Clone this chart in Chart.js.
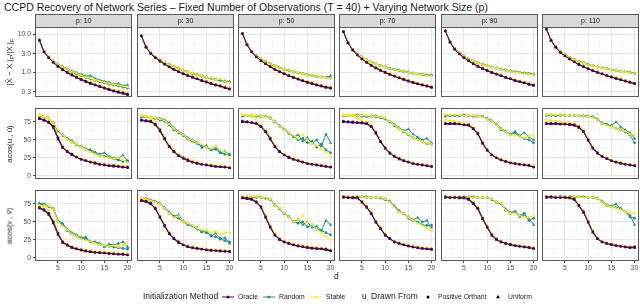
<!DOCTYPE html>
<html lang="en">
<head>
<meta charset="UTF-8">
<title>CCPD Recovery of Network Series</title>
<script src="https://cdn.jsdelivr.net/npm/chart.js"></script>
<style>
  body { margin: 0; width: 640px; height: 304px; position: relative; background: #fff;
         font-family: "Liberation Sans", Arial, sans-serif; overflow: hidden; }
  .abs { position: absolute; white-space: nowrap; }
  #title { left: 4px; top: 1px; font-size: 10.5px; color: #1a1a1a; }
  .strip { background: #d9d9d9; border: 1px solid #595959; box-sizing: border-box;
           font-size: 7px; color: #1a1a1a; text-align: center; line-height: 11px; }
  .ylab { font-size: 8px; color: #1a1a1a; transform: translate(-50%, -50%) rotate(-90deg); }
  .ylab sub { font-size: 6px; }
  .leg { font-size: 6.8px; color: #1a1a1a; top: 293px; }
  .legt { font-size: 8.5px; color: #1a1a1a; top: 291px; }
  .legt sub { font-size: 6px; }
</style>
</head>
<body>
<div id="title" class="abs">CCPD Recovery of Network Series – Fixed Number of Observations (T = 40) + Varying Network Size (p)</div>
<div id="root"></div>

<script>
// ---- data ----
const dValues = [1,2,3,4,5,6,7,8,9,10,11,12,13,14,15,16,17,18,19,20];
const panelLabels = ['p: 10', 'p: 30', 'p: 50', 'p: 70', 'p: 90', 'p: 110'];
const methods = ['Oracle', 'Random', 'Stable'];
const methodColors = ['#440154', '#21908C', '#FDE725'];

const xTicks = [5, 10, 15, 20];
const xMinor = [2.5, 7.5, 12.5, 17.5];
const errTicks = [0.3, 1, 3, 10];
const errMinor = [0.548, 1.732, 5.477];
const angTicks = [0, 25, 50, 75];
const angMinor = [12.5, 37.5, 62.5, 87.5];

// row 1: |X^ - X|_F / |X|_F  (one inner array per panel p = 10..110)
const errOracleP = [
  [6.9,3.4,2.4,1.8,1.42,1.17,0.98,0.84,0.73,0.64,0.57,0.51,0.46,0.42,0.38,0.35,0.32,0.3,0.28,0.26],
  [8.9,4.5,3.1,2.4,1.95,1.62,1.37,1.18,1.03,0.91,0.81,0.73,0.66,0.6,0.55,0.5,0.46,0.43,0.39,0.36],
  [10.3,5.2,3.4,2.5,2.0,1.65,1.38,1.18,1.03,0.9,0.8,0.72,0.65,0.59,0.54,0.5,0.46,0.43,0.4,0.38],
  [11.5,5.8,3.8,2.8,2.2,1.8,1.5,1.28,1.11,0.98,0.87,0.78,0.7,0.64,0.58,0.53,0.49,0.46,0.43,0.4],
  [12,6.1,4.0,3.0,2.4,1.98,1.66,1.42,1.24,1.1,0.98,0.88,0.8,0.72,0.66,0.6,0.56,0.52,0.48,0.45],
  [13.5,6.8,4.5,3.3,2.65,2.2,1.85,1.58,1.38,1.22,1.09,0.98,0.89,0.81,0.74,0.68,0.63,0.58,0.54,0.5]
];
const errOracleU = [
  [6.8,3.35,2.35,1.78,1.4,1.15,0.96,0.82,0.71,0.62,0.55,0.49,0.45,0.41,0.37,0.34,0.31,0.29,0.27,0.25],
  [8.8,4.45,3.05,2.35,1.92,1.6,1.35,1.16,1.01,0.89,0.8,0.72,0.65,0.59,0.54,0.49,0.45,0.42,0.38,0.35],
  [10.2,5.15,3.35,2.48,1.98,1.63,1.36,1.16,1.01,0.89,0.79,0.71,0.64,0.58,0.53,0.49,0.45,0.42,0.39,0.37],
  [11.4,5.75,3.75,2.78,2.18,1.78,1.48,1.26,1.1,0.97,0.86,0.77,0.69,0.63,0.57,0.52,0.48,0.45,0.42,0.39],
  [11.9,6.05,3.95,2.97,2.38,1.96,1.64,1.4,1.22,1.08,0.96,0.87,0.79,0.71,0.65,0.59,0.55,0.51,0.47,0.44],
  [13.4,6.75,4.45,3.28,2.62,2.18,1.83,1.56,1.36,1.2,1.07,0.97,0.88,0.8,0.73,0.67,0.62,0.57,0.53,0.49]
];
const errRandomP = [
  [6.9,3.5,2.5,1.92,1.58,1.35,1.15,1.0,0.88,0.8,0.72,0.66,0.6,0.56,0.52,0.48,0.45,0.43,0.4,0.38],
  [8.9,4.6,3.2,2.5,2.08,1.78,1.55,1.37,1.22,1.1,1.0,0.9,0.84,0.77,0.72,0.68,0.63,0.6,0.56,0.54],
  [10.3,5.3,3.55,2.7,2.2,1.87,1.63,1.45,1.3,1.18,1.08,1.0,0.94,0.89,0.84,0.8,0.76,0.73,0.71,0.69],
  [11.5,5.9,3.95,3.0,2.45,2.08,1.82,1.62,1.46,1.34,1.24,1.15,1.08,1.02,0.97,0.92,0.88,0.85,0.82,0.8],
  [12,6.2,4.2,3.2,2.6,2.22,1.95,1.74,1.58,1.45,1.34,1.25,1.17,1.1,1.05,1.0,0.96,0.93,0.9,0.88],
  [13.5,6.9,4.7,3.5,2.85,2.42,2.12,1.88,1.7,1.56,1.45,1.35,1.27,1.2,1.14,1.09,1.04,1.0,0.96,0.92]
];
const errRandomU = [
  [6.9,3.5,2.5,1.95,1.62,1.4,1.22,1.07,0.96,0.86,0.78,0.8,0.68,0.62,0.57,0.54,0.48,0.5,0.44,0.46],
  [8.9,4.6,3.2,2.5,2.1,1.8,1.58,1.4,1.26,1.12,1.02,0.94,0.86,0.82,0.74,0.7,0.64,0.62,0.58,0.56],
  [10.3,5.3,3.55,2.72,2.22,1.9,1.66,1.47,1.33,1.2,1.12,1.02,0.97,0.92,0.86,0.82,0.78,0.75,0.72,0.8],
  [11.5,5.9,3.95,3.02,2.47,2.1,1.85,1.64,1.5,1.36,1.27,1.18,1.12,1.04,1.0,0.94,0.9,0.88,0.84,0.83],
  [12,6.2,4.2,3.22,2.62,2.25,1.98,1.77,1.6,1.48,1.37,1.28,1.2,1.14,1.07,1.03,0.98,0.95,0.92,0.84],
  [13.5,6.9,4.7,3.52,2.88,2.45,2.15,1.92,1.74,1.6,1.48,1.38,1.3,1.24,1.16,1.12,1.06,1.02,0.98,0.88]
];
const errStableP = [
  [6.9,3.5,2.5,1.9,1.5,1.23,1.03,0.88,0.77,0.67,0.6,0.54,0.49,0.44,0.4,0.37,0.34,0.32,0.3,0.28],
  [8.9,4.6,3.25,2.52,2.05,1.7,1.44,1.24,1.08,0.95,0.85,0.77,0.7,0.63,0.58,0.53,0.49,0.45,0.41,0.38],
  [10.3,5.3,3.55,2.62,2.1,1.73,1.45,1.24,1.08,0.95,0.84,0.76,0.68,0.62,0.57,0.53,0.49,0.45,0.42,0.4],
  [11.5,5.9,3.95,2.94,2.3,1.88,1.57,1.34,1.16,1.02,0.91,0.82,0.74,0.67,0.61,0.56,0.52,0.48,0.45,0.42],
  [12,6.2,4.15,3.12,2.5,2.06,1.73,1.48,1.29,1.14,1.02,0.92,0.83,0.75,0.69,0.63,0.59,0.55,0.5,0.47],
  [13.5,6.9,4.65,3.45,2.76,2.28,1.92,1.64,1.43,1.27,1.13,1.02,0.93,0.84,0.77,0.71,0.66,0.6,0.56,0.52]
];
const errStableU = [
  [6.9,3.5,2.5,1.93,1.6,1.37,1.18,1.03,0.92,0.82,0.74,0.68,0.62,0.58,0.53,0.5,0.47,0.45,0.42,0.4],
  [8.9,4.6,3.2,2.5,2.1,1.79,1.56,1.38,1.24,1.1,1.01,0.92,0.85,0.8,0.73,0.71,0.62,0.66,0.56,0.52],
  [10.3,5.3,3.55,2.7,2.2,1.88,1.64,1.46,1.31,1.19,1.1,1.01,0.96,0.9,0.85,0.81,0.77,0.74,0.7,0.68],
  [11.5,5.9,3.95,3.0,2.45,2.08,1.83,1.63,1.47,1.35,1.25,1.16,1.09,1.03,0.98,0.93,0.89,0.86,0.8,0.78],
  [12,6.2,4.2,3.2,2.6,2.23,1.96,1.75,1.59,1.46,1.35,1.26,1.18,1.11,1.04,0.99,0.95,0.91,0.88,0.86],
  [13.5,6.9,4.7,3.5,2.86,2.43,2.13,1.9,1.71,1.57,1.46,1.36,1.28,1.21,1.15,1.1,1.05,1.0,0.95,0.9]
];

// row 2: acos(u, u^) in degrees
const uOracleP = [
  [80,78,75,69,53,40,34,30,26,23,21,19,18,16,15,14,14,13,12,12],
  [78,77,76,72,64,52,41,34,28,25,22,19,17.5,16,15,14,13,12.5,12,11],
  [76,75,74,73,69,62,52,41,34,29,26,23,21,19,17,16,15,14,13,12],
  [76,75,75,74,74,73,69,60,48,39,32,27,24,21,19,17,16,15,14,13],
  [73,73,73,72,71,71,66,59,46,36,29,25,22,20,18,17,16,15,14.5,12],
  [73,73,73,72,72,72,71,68,62,50,39,32,27,24,21,19,17.5,16,15,14]
];
const uOracleU = [
  [79,77,74,67,51,39,33,29,26,23,21,19,17,16,15,14,13,13,12,11],
  [77,76,75,71,62,51,40,33,28,24,21,19,17,16,15,14,13,12,12,11],
  [75,75,74,72,68,61,51,40,33,29,25,23,21,19,17,16,15,14,13,12],
  [75,75,74,74,73,72,68,59,47,38,31,27,23,21,19,17,16,15,14,13],
  [72,72,72,72,71,70,65,58,45,35,29,25,22,20,18,17,16,15,14,13],
  [72,72,72,72,72,71,70,67,61,49,38,31,27,24,21,19,17,16,15,14]
];
const uRandomP = [
  [83,82,80,74,63,56,52,47,43,40,37,35,31,28,27,25,24,22,20,21],
  [82,82,81,80,78,76,71,64,60,56,51,48,45,42,40,36,37,32,30,29],
  [84,84,84,83,83,82,80,76,69,64,59,55,50,52,46,48,40,44,36,32],
  [84,84,84,84,83,83,83,82,81,79,75,70,66,61,57,53,51,48,45,44],
  [84,84,84,84,84,84,83,83,83,79,76,71,64,61,57,60,55,52,50,46],
  [84,84,84,84,84,84,84,84,83,83,82,78,73,71,68,66,64,61,57,46]
];
const uRandomU = [
  [84,83,81,73,62,58,52,49,44,41,38,36,33,30,32,27,25,24,29,20],
  [83,83,82,81,80,78,74,67,62,58,53,50,47,39,42,36,41,32,34,30],
  [83,84,84,84,83,83,81,75,70,65,60,54,57,48,53,45,50,41,58,46],
  [83,84,84,85,84,83,83,84,82,80,76,72,67,63,65,58,54,50,52,46],
  [83,84,84,84,85,84,84,83,82,80,77,72,66,62,58,62,56,60,54,50],
  [85,85,84,85,84,84,84,84,84,83,82,79,74,72,70,75,68,64,60,52]
];
const uStableP = [
  [84,82,80,71,55,42,35,31,27,24,22,20,19,17,16,15,15,14,14,13],
  [84,83,80,74,65,54,43,36,30,26,23,21,19,17,16,15,14,14,13,12],
  [85,84,82,78,71,64,54,43,35,30,27,24,22,20,18,17,16,15,14,13],
  [84,84,83,80,77,75,71,62,50,40,33,28,25,22,20,18,17,16,15,14],
  [78,77,76,74,73,72,68,61,48,37,30,26,23,21,19,18,17,16,15,14],
  [78,77,76,75,74,73,73,70,64,52,40,33,28,25,22,20,19,17,16,15]
];
const uStableU = [
  [85,83,81,74,64,57,51,47,44,40,37,33,30,28,26,25,24,25,22,18],
  [84,83,82,81,79,77,72,66,61,57,52,49,46,44,40,38,41,36,33,25],
  [85,85,84,84,83,82,80,76,69,64,60,56,52,58,50,45,42,38,33,27],
  [85,85,85,84,84,84,83,83,82,80,76,71,66,62,58,53,50,48,46,44],
  [85,85,85,85,84,84,84,83,82,79,76,71,65,61,57,56,55,53,55,57],
  [85,85,85,85,84,84,84,84,83,83,81,78,73,70,68,66,63,62,58,57]
];

// row 3: acos(v, v^) in degrees
const vOracleP = [
  [70,67,62,50,34,22,18,14.5,12.5,11,9.5,8.5,7.5,7,6.5,6,5.5,5,5,4],
  [80,79,76,69,57,45,34,27,22,18,15.5,14,13,12,11,10.5,10,9.5,9,9],
  [84,83,82,78,71,57,43,32,26,22,20,18,16.5,15.5,14.5,13.5,13,12.5,12,10],
  [85,84,84,84,78,71,62,50,41,32,27,22,20,18,16.5,15,14,13,12.5,12],
  [85,84,84,84,84,82,76,69,55,43,32,26,22,20,18.5,17,16,15,14.5,13],
  [85,85,84,84,84,84,82,73,64,50,36,27,22,20,18.5,17,16,15,14.5,15]
];
const vOracleU = [
  [69,66,60,48,32,21,17,14,12,10.5,9,8,7.5,7,6.5,6,5.5,5,4.5,4],
  [79,78,75,68,56,44,33,26,21,18,15,14,13,12,11,10,10,9,9,8.5],
  [83,82,81,77,70,56,42,31,25,22,20,18,16,15,14,13,12.5,12,11,9.5],
  [84,84,83,83,77,70,61,49,40,31,26,22,20,18,16,15,14,13,12,11.5],
  [84,84,84,83,83,81,75,68,54,42,31,25,22,20,18,17,16,15,14,13],
  [84,84,84,84,84,83,81,72,63,49,35,26,22,20,18,17,16,15,14,14]
];
const vRandomP = [
  [75,74,71,68,50,46,38,33,30,27,26,23,21,19,17,16,15,14,13,12],
  [82,82,80,78,75,69,62,57,55,50,46,44,40,37,35,31,29,26,24,22],
  [84,84,84,84,84,83,81,73,69,62,57,51,48,50,43,46,40,38,35,32],
  [85,85,85,85,85,84,84,84,84,82,78,71,64,62,55,52,50,46,45,45],
  [85,85,85,85,85,85,84,84,84,84,82,78,75,66,62,64,59,62,52,55],
  [85,85,85,85,85,85,85,85,85,84,84,83,78,73,71,70,69,64,57,55]
];
const vRandomU = [
  [76,75,72,69,52,48,40,35,32,28,29,22,22,20,15,19,18,20,22,15],
  [83,83,81,79,76,70,64,58,60,51,48,45,42,36,38,30,34,27,28,20],
  [84,85,84,85,84,84,82,74,68,61,58,50,53,46,50,42,44,38,52,46],
  [84,85,85,85,85,85,84,84,83,81,79,72,66,61,57,53,56,50,52,42],
  [84,85,85,85,85,85,85,84,84,84,81,77,76,68,63,65,57,60,55,46],
  [84,85,85,86,85,85,85,85,85,84,84,83,79,74,72,75,68,64,60,46]
];
const vStableP = [
  [73,71,66,53,36,24,19,16,14,12,11,10,9,8,8,7,7,6,6,5],
  [82,81,78,71,59,47,36,28,23,19,17,15,14,13,12,11.5,11,10.5,10,10],
  [85,84,83,79,72,59,45,34,27,23,21,19,18,17,16,15,14,13.5,13,11],
  [85,85,84,84,79,73,64,52,43,34,28,23,21,19,17.5,16,15,14,13.5,13],
  [85,85,84,84,84,83,78,71,57,45,34,27,23,21,19.5,18,17,16,15.5,14],
  [85,85,85,84,84,84,83,75,66,52,38,28,23,21,19.5,18,17,16,15.5,16]
];
const vStableU = [
  [72,73,72,68,50,44,39,33,30,26,24,23,20,18,17,16,17,15,18,20],
  [83,82,80,78,75,69,62,56,58,50,48,45,41,39,38,35,37,33,35,35],
  [86,85,85,85,84,84,82,73,69,62,57,50,52,59,50,46,40,35,30,25],
  [85,85,85,85,85,84,84,84,84,82,78,70,64,62,56,52,48,45,41,38],
  [85,85,85,85,85,85,84,84,84,84,82,78,76,66,62,62,59,57,56,59],
  [85,85,85,85,85,85,85,85,84,84,84,83,78,73,71,69,67,64,62,62]
];

// ---- layout ----
const colX = [35, 137, 238, 339, 441, 542];
const panelW = 97;
const rows = [
  { top: 27, h: 70, type: 'logarithmic', min: 0.22, max: 15.3, major: errTicks, minor: errMinor,
    fmt: v => v.toFixed(1),
    series: { Oracle: [errOracleP, errOracleU], Random: [errRandomP, errRandomU], Stable: [errStableP, errStableU] },
    label: '|X&#770; &minus; X<sub>&middot;</sub>|<sub>F</sub>/|X<sub>&middot;</sub>|<sub>F</sub>' },
  { top: 108, h: 71, type: 'linear', min: -4.5, max: 94.5, major: angTicks, minor: angMinor,
    fmt: v => String(v),
    series: { Oracle: [uOracleP, uOracleU], Random: [uRandomP, uRandomU], Stable: [uStableP, uStableU] },
    label: 'acos(u<sub>&middot;</sub>, &ucirc;)' },
  { top: 190, h: 71, type: 'linear', min: -4.5, max: 94.5, major: angTicks, minor: angMinor,
    fmt: v => String(v),
    series: { Oracle: [vOracleP, vOracleU], Random: [vRandomP, vRandomU], Stable: [vStableP, vStableU] },
    label: 'acos(v<sub>&middot;</sub>, v&#770;)' }
];

// drawing order, first entry ends up on top
const drawOrder = [['Oracle', 'P'], ['Stable', 'P'], ['Oracle', 'U'], ['Stable', 'U'], ['Random', 'P'], ['Random', 'U']];

const root = document.getElementById('root');

function addDiv(cls, style, html) {
  const el = document.createElement('div');
  el.className = 'abs ' + cls;
  Object.assign(el.style, style);
  el.innerHTML = html;
  root.appendChild(el);
  return el;
}

const panelBorder = {
  id: 'panelBorder',
  afterDraw(chart) {
    const a = chart.chartArea, ctx = chart.ctx;
    ctx.save();
    ctx.strokeStyle = '#595959';
    ctx.lineWidth = 1;
    ctx.strokeRect(a.left + 0.5, a.top + 0.5, a.right - a.left - 1, a.bottom - a.top - 1);
    ctx.restore();
  }
};

function tickList(major, minor) {
  return major.concat(minor).sort((a, b) => a - b).map(v => ({ value: v }));
}

// fixed axis size, and no label padding so every panel gets the same plot area
function fixSize(s, w, h) {
  if (w !== null) s.width = w;
  if (h !== null) s.height = h;
  s.paddingTop = s.paddingBottom = s.paddingLeft = s.paddingRight = 0;
}

function makePanel(r, c) {
  const row = rows[r];
  const L = c === 0 ? 34 : 0;
  const B = r === 2 ? 12 : (c === 0 ? 4 : 0);
  const canvas = document.createElement('canvas');
  canvas.width = panelW + L;
  canvas.height = row.h + B;
  canvas.style.position = 'absolute';
  canvas.style.left = (colX[c] - L) + 'px';
  canvas.style.top = row.top + 'px';
  root.appendChild(canvas);

  const datasets = drawOrder.map(([name, s]) => {
    const m = methods.indexOf(name);
    const vals = row.series[name][s === 'P' ? 0 : 1][c];
    return {
      label: name + ' ' + s,
      data: vals.map((v, i) => ({ x: dValues[i], y: v })),
      borderColor: methodColors[m],
      backgroundColor: methodColors[m],
      borderWidth: 1,
      pointStyle: s === 'P' ? 'circle' : 'triangle',
      pointRadius: s === 'P' ? 1.4 : 1.9,
      pointBorderWidth: 0,
      tension: 0
    };
  });

  const tickFont = { family: '"Liberation Sans", Arial, sans-serif', size: 6.8 };
  new Chart(canvas, {
    type: 'line',
    data: { datasets },
    options: {
      responsive: false,
      animation: false,
      events: [],
      layout: { padding: 0, autoPadding: false },
      plugins: { legend: { display: false }, tooltip: { enabled: false } },
      scales: {
        x: {
          type: 'linear', min: 0.05, max: 20.95,
          afterBuildTicks: s => { s.ticks = tickList(xTicks, xMinor); },
          afterFit: s => fixSize(s, null, B),
          border: { display: false },
          grid: {
            color: ctx => xTicks.includes(ctx.tick.value) ? '#e3e3e3' : '#f1f1f1',
            lineWidth: ctx => xTicks.includes(ctx.tick.value) ? 0.9 : 0.6,
            drawTicks: r === 2, tickLength: 2,
            tickColor: ctx => xTicks.includes(ctx.tick.value) ? '#333333' : 'rgba(0,0,0,0)'
          },
          ticks: {
            display: r === 2, autoSkip: false, maxRotation: 0, padding: 1,
            color: '#4d4d4d', font: tickFont,
            callback: v => xTicks.includes(v) ? String(v) : ''
          }
        },
        y: {
          type: row.type, min: row.min, max: row.max,
          afterBuildTicks: s => { s.ticks = tickList(row.major, row.minor); },
          afterFit: s => fixSize(s, L, null),
          border: { display: false },
          grid: {
            color: ctx => row.major.includes(ctx.tick.value) ? '#e3e3e3' : '#f1f1f1',
            lineWidth: ctx => row.major.includes(ctx.tick.value) ? 0.9 : 0.6,
            drawTicks: c === 0, tickLength: 2,
            tickColor: ctx => row.major.includes(ctx.tick.value) ? '#333333' : 'rgba(0,0,0,0)'
          },
          ticks: {
            display: c === 0, autoSkip: false, padding: 2,
            color: '#4d4d4d', font: tickFont,
            callback: v => row.major.includes(v) ? row.fmt(v) : ''
          }
        }
      }
    },
    plugins: [panelBorder]
  });
}

rows.forEach((row, r) => {
  for (let c = 0; c < 6; c++) makePanel(r, c);
  addDiv('ylab', { left: '10px', top: (row.top + row.h / 2) + 'px' }, row.label);
});

panelLabels.forEach((lab, c) => {
  addDiv('strip', { left: colX[c] + 'px', top: '14px', width: panelW + 'px', height: '14px' }, lab);
});

addDiv('', { left: '334px', top: '271px', fontSize: '8.5px', color: '#1a1a1a' }, 'd');

// ---- legend ----
function legendKey(x, color, shape) {
  const svg = document.createElementNS('http://www.w3.org/2000/svg', 'svg');
  svg.setAttribute('width', '12');
  svg.setAttribute('height', '8');
  svg.style.position = 'absolute';
  svg.style.left = x + 'px';
  svg.style.top = '293px';
  let inner = '';
  if (color) inner += '<line x1="0" y1="4" x2="12" y2="4" stroke="' + color + '" stroke-width="1"/>';
  const fill = color || '#000';
  if (shape === 'circle') inner += '<circle cx="6" cy="4" r="1.5" fill="' + fill + '"/>';
  else inner += '<polygon points="6,1.8 8,5.3 4,5.3" fill="' + fill + '"/>';
  svg.innerHTML = inner;
  root.appendChild(svg);
}

addDiv('legt', { left: '143px' }, 'Initialization Method');
methods.forEach((m, i) => {
  const kx = [222, 263, 310][i];
  legendKey(kx, methodColors[i], 'circle');
  addDiv('leg', { left: (kx + 16) + 'px' }, m);
});
addDiv('legt', { left: '362px' }, 'u<sub>&middot;</sub> Drawn From');
legendKey(422, null, 'circle');
addDiv('leg', { left: '438px' }, 'Positive Orthant');
legendKey(492, null, 'triangle');
addDiv('leg', { left: '508px' }, 'Uniform');
</script>
</body>
</html>
